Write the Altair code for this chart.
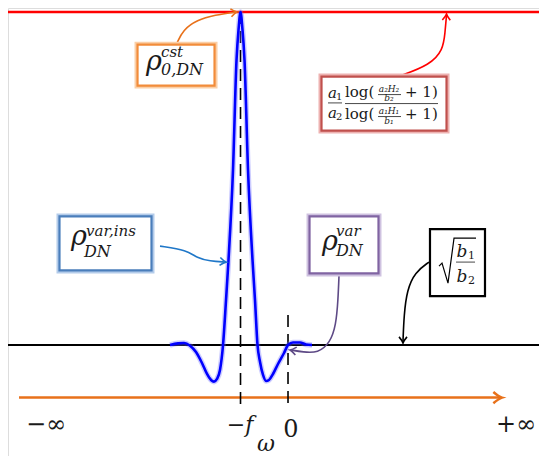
import altair as alt
import pandas as pd

# horizontal axis: omega in units of f (0 at omega=0, -1 at omega=-f)
# vertical axis: normalised rho (0 = sqrt(b1/b2) level, 1 = rho_cst level)
X_DOMAIN = [-5.895, 5.284]
Y_DOMAIN = [-0.3333, 1.012]

# ---- blue curve rho_DN(omega) ----
omega = [-2.484, -2.316, -2.189, -2.063, -1.937, -1.811, -1.705, -1.621, -1.558, -1.495,
         -1.432, -1.368, -1.305, -1.253, -1.158, -1.084, -1.042, -1.0, -0.958, -0.916,
         -0.842, -0.747, -0.695, -0.642, -0.589, -0.526, -0.463, -0.4, -0.316, -0.211,
         -0.084, 0.0, 0.105, 0.253, 0.379, 0.505]
rho = [0.0, 0.005, 0.006, -0.002, -0.021, -0.054, -0.087, -0.105, -0.110, -0.102,
       -0.075, 0.0, 0.135, 0.255, 0.526, 0.856, 0.946, 1.0, 0.946, 0.856,
       0.526, 0.255, 0.135, 0.0, -0.051, -0.090, -0.108, -0.105, -0.087, -0.057,
       -0.024, 0.0, 0.0075, 0.0075, 0.0015, 0.0]

RHO_CST = 1.0
SQRT_LEVEL = 0.0

# omega-axis arrow and dashed markers
axis_x = [-5.663, 4.48]
axis_y = -0.158
axis_tip = 4.505
dash_x = [-1.0, 0.0]
dash_top = [1.0, 0.090]
dash_bot = [-0.183, -0.183]

# bottom labels
bot_labels = ["\u2212\u221e", "0", "+\u221e"]
bot_x = [-5.095, 0.063, 4.80]
bot_y = [-0.262, -0.275, -0.262]
it_labels = ["\u2212f", "\u03c9"]
it_x = [-1.011, -0.463]
it_y = [-0.262, -0.318]

# annotation boxes: x1, x2, y1, y2
box_orange = [-3.168, -1.547, 0.902, 0.779]
box_red = [0.705, 3.337, 0.806, 0.644]
box_blue = [-4.811, -2.874, 0.386, 0.224]
box_purple = [0.453, 1.905, 0.386, 0.215]
box_black = [2.989, 4.147, 0.348, 0.147]

# curved arrows (x list, y list, tip x, tip y, tip angle)
arr_orange = ([-2.337, -2.211, -1.916, -1.537, -1.095], [0.907, 0.946, 0.976, 0.991, 1.0], -1.074, 1.0, 352)
arr_red = ([2.358, 2.989, 3.263, 3.305, 3.337], [0.808, 0.841, 0.886, 0.937, 0.991], 3.337, 0.994, 272)
arr_blue = ([-2.695, -2.126, -1.916, -1.642, -1.326], [0.297, 0.285, 0.261, 0.252, 0.249], -1.305, 0.249, 6)
arr_purple = ([1.074, 1.053, 1.011, 0.884, 0.632, 0.316, 0.063],
              [0.210, 0.135, 0.060, 0.006, -0.024, -0.021, -0.015], 0.042, -0.015, 190)
arr_black = ([2.968, 2.674, 2.505, 2.442, 2.421], [0.249, 0.219, 0.165, 0.090, 0.012], 2.421, 0.006, 90)

# radical sign of sqrt(b1/b2)
rad_x = [3.179, 3.242, 3.368, 3.495, 3.958]
rad_y = [0.237, 0.246, 0.186, 0.321, 0.321]

xs = alt.Scale(domain=X_DOMAIN, nice=False, zero=False)
ys = alt.Scale(domain=Y_DOMAIN, nice=False, zero=False)


def X(f="x"):
    return alt.X(f"{f}:Q", scale=xs, axis=None)


def Y(f="y"):
    return alt.Y(f"{f}:Q", scale=ys, axis=None)


ARROW = "M -1 -0.65 Q -0.35 -0.1 0 0 Q -0.35 0.1 -1 0.65"
SERIF = "DejaVu Serif"
INK = "#1a1a1a"

layers = []

# horizontal reference lines
layers.append(alt.Chart(pd.DataFrame({"y": [RHO_CST]})).mark_rule(color="#FF0000", strokeWidth=2.5).encode(y=Y()))
layers.append(alt.Chart(pd.DataFrame({"y": [SQRT_LEVEL]})).mark_rule(color="#000000", strokeWidth=2).encode(y=Y()))

# omega axis arrow
layers.append(alt.Chart(pd.DataFrame({"x": [axis_x[0]], "x2": [axis_x[1]], "y": [axis_y]}))
              .mark_rule(color="#E8711A", strokeWidth=2.5)
              .encode(x=X(), x2="x2:Q", y=Y()))
layers.append(alt.Chart(pd.DataFrame({"x": [axis_tip], "y": [axis_y], "a": [0]}))
              .mark_point(shape=ARROW, filled=False, size=300, strokeWidth=2.5, color="#E8711A", opacity=1)
              .encode(x=X(), y=Y(), angle=alt.Angle("a:Q", scale=None)))

# dashed vertical markers
layers.append(alt.Chart(pd.DataFrame({"x": dash_x, "y": dash_top, "y2": dash_bot}))
              .mark_rule(color="#000000", strokeWidth=1.6, strokeDash=[12, 7])
              .encode(x=X(), y=Y(), y2="y2:Q"))

# blue curve (glow + line)
curve = pd.DataFrame({"x": omega, "y": rho})
layers.append(alt.Chart(curve).mark_line(color="#7070FF", strokeWidth=5.5, opacity=0.35, interpolate="monotone")
              .encode(x=X(), y=Y()))
layers.append(alt.Chart(curve).mark_line(color="#0000FF", strokeWidth=2.6, interpolate="monotone")
              .encode(x=X(), y=Y()))


def arrow(spec, color, interp="basis"):
    xv, yv, tx, ty, ang = spec
    d = pd.DataFrame({"x": xv, "y": yv, "i": list(range(len(xv)))})
    line = alt.Chart(d).mark_line(color=color, strokeWidth=1.6, interpolate=interp).encode(
        x=X(), y=Y(), order="i:Q")
    head = alt.Chart(pd.DataFrame({"x": [tx], "y": [ty], "a": [ang]})).mark_point(
        shape=ARROW, filled=False, size=150, strokeWidth=1.6, color=color, opacity=1).encode(
        x=X(), y=Y(), angle=alt.Angle("a:Q", scale=None))
    return [line, head]


layers += arrow(arr_orange, "#E8711A")
layers += arrow(arr_red, "#FF0000")
layers += arrow(arr_blue, "#1F77C8")
layers += arrow(arr_purple, "#5E4A86")
layers += arrow(arr_black, "#000000")


def box(b, stroke, glow=None):
    d = pd.DataFrame({"x": [b[0]], "x2": [b[1]], "y": [b[2]], "y2": [b[3]]})
    out = []
    if glow:
        out.append(alt.Chart(d).mark_rect(fill="white", stroke=glow, strokeWidth=6)
                   .encode(x=X(), x2="x2:Q", y=Y(), y2="y2:Q"))
    out.append(alt.Chart(d).mark_rect(fill="white", stroke=stroke, strokeWidth=2.2)
               .encode(x=X(), x2="x2:Q", y=Y(), y2="y2:Q"))
    return out


layers += box(box_orange, "#F28C3A", "#FBCFA6")
layers += box(box_red, "#C0504D", "#EDB2B1")
layers += box(box_blue, "#4A7EBB", "#B4CCEA")
layers += box(box_purple, "#8064A2", "#CFC2E0")
layers += box(box_black, "#000000")


def txt(xv, yv, labels, size, italic=True, align="left", baseline="alphabetic", color=INK):
    d = pd.DataFrame({"x": xv, "y": yv, "t": labels})
    kw = dict(font=SERIF, fontSize=size, align=align, baseline=baseline, color=color)
    if italic:
        kw["fontStyle"] = "italic"
    return alt.Chart(d).mark_text(**kw).encode(x=X(), y=Y(), text="t:N")


# rho symbols in the boxes
layers.append(txt([-2.989, -4.568, 0.716], [0.826, 0.300, 0.285], ["\u03c1", "\u03c1", "\u03c1"], 27))
# superscripts
layers.append(txt([-2.674, -4.253, 1.011], [0.865, 0.327, 0.328], ["cst", "var,ins", "var"], 15))
# subscripts
layers.append(txt([-2.674, -4.295, 1.011], [0.811, 0.264, 0.268], ["0,DN", "DN", "DN"], 16))

# sqrt(b1/b2)
layers.append(alt.Chart(pd.DataFrame({"x": rad_x, "y": rad_y, "i": list(range(len(rad_x)))}))
              .mark_line(color="#000000", strokeWidth=1.2, interpolate="linear")
              .encode(x=X(), y=Y(), order="i:Q"))
layers.append(txt([3.545, 3.545], [0.264, 0.189], ["b", "b"], 17))
layers.append(txt([3.79, 3.79], [0.258, 0.183], ["1", "2"], 11, italic=False))

# fraction bars (x1, x2, y)
bars_x1 = [3.537, 0.842, 1.2, 1.895, 1.895]
bars_x2 = [3.937, 1.137, 3.158, 2.379, 2.379]
bars_y = [0.249, 0.727, 0.725, 0.752, 0.686]
layers.append(alt.Chart(pd.DataFrame({"x": bars_x1, "x2": bars_x2, "y": bars_y}))
              .mark_rule(color="#333333", strokeWidth=0.9)
              .encode(x=X(), x2="x2:Q", y=Y()))

# a1/a2 * log(...)/log(...)
layers.append(txt([0.842, 0.842], [0.742, 0.682], ["a", "a"], 15))
layers.append(txt([1.011, 1.011], [0.736, 0.676], ["1", "2"], 10, italic=False))
layers.append(txt([1.2, 1.2], [0.745, 0.679], ["log(", "log("], 15, italic=False))
layers.append(txt([2.126, 2.126], [0.760, 0.694], ["a\u2082H\u2082", "a\u2081H\u2081"], 9, align="center"))
layers.append(txt([2.126, 2.126], [0.733, 0.664], ["b\u2082", "b\u2081"], 9, align="center"))
layers.append(txt([2.463, 2.463], [0.745, 0.679], ["+ 1)", "+ 1)"], 15, italic=False))

# bottom axis labels
layers.append(txt(bot_x, bot_y, bot_labels, 24, italic=False, align="center"))
layers.append(txt(it_x, it_y, it_labels, 22, align="center"))

chart = alt.layer(*layers).properties(
    width=531, height=448, padding=0, autosize=alt.AutoSizeParams(type="none")
).configure_view(stroke=None).configure(background="white")

chart.save("out.html", embed_options={"renderer": "svg", "actions": False})
